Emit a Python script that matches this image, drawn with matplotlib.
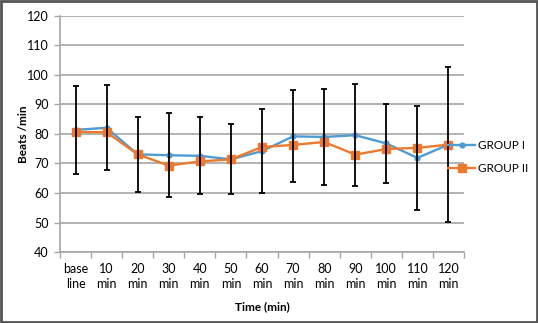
import matplotlib
matplotlib.use("Agg")
import matplotlib.pyplot as plt
from matplotlib.patches import Rectangle

plt.rcParams['font.family'] = ['Lato', 'DejaVu Sans']

labels = ['base\nline', '10\nmin', '20\nmin', '30\nmin', '40\nmin', '50\nmin', '60\nmin',
          '70\nmin', '80\nmin', '90\nmin', '100\nmin', '110\nmin', '120\nmin']
group1 = [81.4, 82.1, 73.1, 72.8, 72.6, 71.4, 74.2, 79.2, 79.0, 79.6, 76.8, 71.9, 76.4]
group2 = [80.7, 80.6, 73.1, 69.3, 70.7, 71.4, 75.6, 76.3, 77.3, 73.0, 74.9, 75.3, 76.4]
# Group I spread (error bars)
sd1 = [14.8, 14.4, 12.7, 14.2, 13.1, 11.9, 14.3, 15.6, 16.4, 17.2, 13.5, 17.6, 26.2]

blue = '#4f9bd3'
orange = '#ec7a2e'
grid_c = '#a6a6a6'

fig = plt.figure(figsize=(5.38, 3.23), dpi=100)
ax = fig.add_axes([0.1115, 0.2198, 0.751, 0.7307])
x = list(range(len(labels)))

ax.plot(x, group1, color=blue, lw=1.7, marker='o', ms=3.5, label='GROUP I', zorder=3)
ax.plot(x, group2, color=orange, lw=1.7, marker='s', ms=5.5, label='GROUP II', zorder=4)
ax.errorbar(x, group1, yerr=sd1, fmt='none', ecolor='black', elinewidth=1.3,
            capsize=2.5, capthick=1.3, zorder=5)

ax.set_xlim(-0.5, 12.5)
ax.set_ylim(40, 120)
ax.set_yticks(range(40, 121, 10))
ax.yaxis.grid(True, color=grid_c, lw=1.2)
ax.set_axisbelow(True)
for s in ['top', 'right']:
    ax.spines[s].set_visible(False)
ax.spines['left'].set_color(grid_c)
ax.spines['bottom'].set_color(grid_c)
ax.spines['left'].set_linewidth(1.2)
ax.spines['bottom'].set_linewidth(1.2)

ax.set_xticks(x)
ax.set_xticklabels(labels, fontsize=9, linespacing=1.25)
ax.set_xticks([i - 0.5 for i in range(len(labels) + 1)], minor=True)
ax.tick_params(axis='x', which='major', length=0, pad=8)
ax.tick_params(axis='x', which='minor', length=4, color=grid_c, width=1)
ax.tick_params(axis='y', length=4, color=grid_c, width=1, labelsize=9, pad=4)

ax.set_xlabel('Time (min)', fontsize=8.5, fontweight='bold', labelpad=8)
ax.set_ylabel('Beats /min', fontsize=8.5, fontweight='bold', labelpad=-1)

fig.legend(loc='center left', bbox_to_anchor=(448 / 538, 1 - 157 / 323), frameon=False,
           fontsize=8.5, handlelength=2.3, handletextpad=0.2, labelspacing=1.0,
           borderpad=0, borderaxespad=0)

fig.patches.append(Rectangle((0.002, 0.003), 0.996, 0.994, transform=fig.transFigure,
                             fill=False, edgecolor='#555555', lw=2))

fig.savefig('out.png', dpi=100)
